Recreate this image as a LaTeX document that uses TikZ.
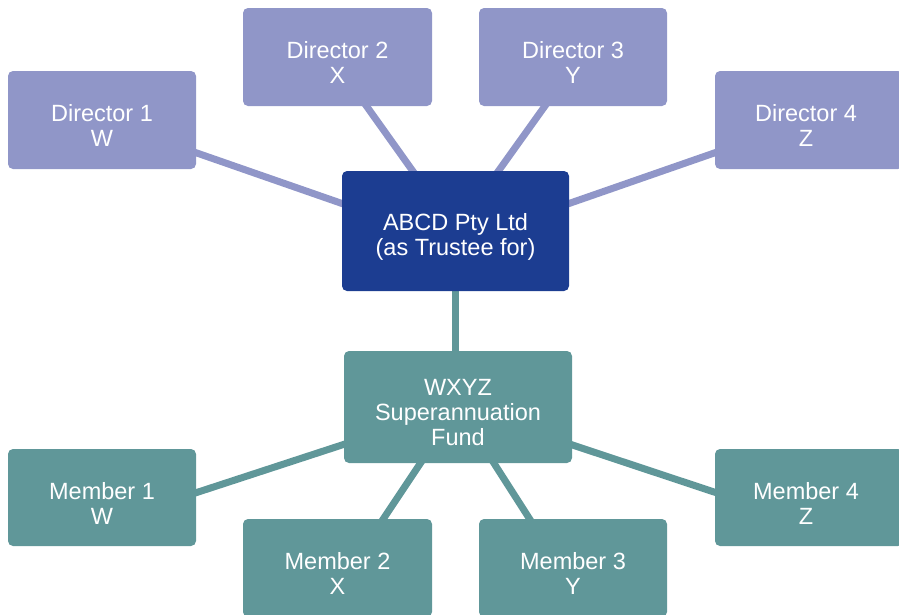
\documentclass[tikz,border=0pt]{standalone}
\usepackage{fontspec}
\setmainfont{Liberation Sans}
\usetikzlibrary{backgrounds}
\definecolor{dirc}{HTML}{9096C8}
\definecolor{topc}{HTML}{1C3D91}
\definecolor{memc}{HTML}{609799}
\tikzset{
  box/.style={rounded corners=5pt, inner sep=0pt},
  txt/.style={inner sep=0pt, align=center, text=white,
    font=\fontsize{23.5}{25}\selectfont, yshift=-5.5pt},
  dirbox/.style={box, fill=dirc, minimum width=188pt, minimum height=98pt},
  membox/.style={box, fill=memc, minimum width=188pt, minimum height=98pt},
  dline/.style={draw=dirc, line width=7pt},
  mline/.style={draw=memc, line width=7pt}
}
\begin{document}
\begin{tikzpicture}[x=1pt,y=-1pt]
\useasboundingbox (0,0) rectangle (899,614);
\clip (0,0) rectangle (899,614);
\node[dirbox] (d1) at (102,120) {};
\node[dirbox, minimum width=189pt] (d2) at (337.5,57) {};
\node[dirbox] (d3) at (573,57) {};
\node[dirbox] (d4) at (809,120) {};
\node[box, fill=topc, minimum width=227pt, minimum height=120pt] (abcd) at (455.5,231) {};
\node[box, fill=memc, minimum width=228pt, minimum height=112pt] (wxyz) at (458,407) {};
\node[membox, minimum height=97pt] (m1) at (102,497.5) {};
\node[membox, minimum width=189pt] (m2) at (337.5,568) {};
\node[membox] (m3) at (573,568) {};
\node[membox, minimum height=97pt] (m4) at (809,497.5) {};
\node[txt] (d1t) at (d1) {Director 1\\W};
\node[txt] (d2t) at (d2) {Director 2\\X};
\node[txt] (d3t) at (d3) {Director 3\\Y};
\node[txt] (d4t) at ([xshift=-3pt]d4.center) {Director 4\\Z};
\node[txt] (abcdt) at (abcd) {ABCD Pty Ltd\\(as Trustee for)};
\node[txt] (wxyzt) at (wxyz) {WXYZ\\Superannuation\\Fund};
\node[txt] (m1t) at (m1) {Member 1\\W};
\node[txt] (m2t) at (m2) {Member 2\\X};
\node[txt] (m3t) at (m3) {Member 3\\Y};
\node[txt] (m4t) at ([xshift=-3pt]m4.center) {Member 4\\Z};
\begin{scope}[on background layer]
\draw[dline] (d1.center) -- ([yshift=-12pt]abcd.center);
\draw[dline] ([xshift=-6pt]d2.center) -- (abcd.center);
\draw[dline] ([xshift=7pt]d3.center) -- (abcd.center);
\draw[dline] (d4.center) -- ([yshift=-12pt]abcd.center);
\draw[mline] (abcd.center) -- (abcd.center |- wxyz.center);
\draw[mline] ([yshift=-26pt]m1.center) -- (wxyz.center);
\draw[mline] ([xshift=13pt]m2.center) -- (wxyz.center);
\draw[mline] ([xshift=-12pt]m3.center) -- (wxyz.center);
\draw[mline] ([yshift=-26pt]m4.center) -- (wxyz.center);
\end{scope}
\end{tikzpicture}
\end{document}
